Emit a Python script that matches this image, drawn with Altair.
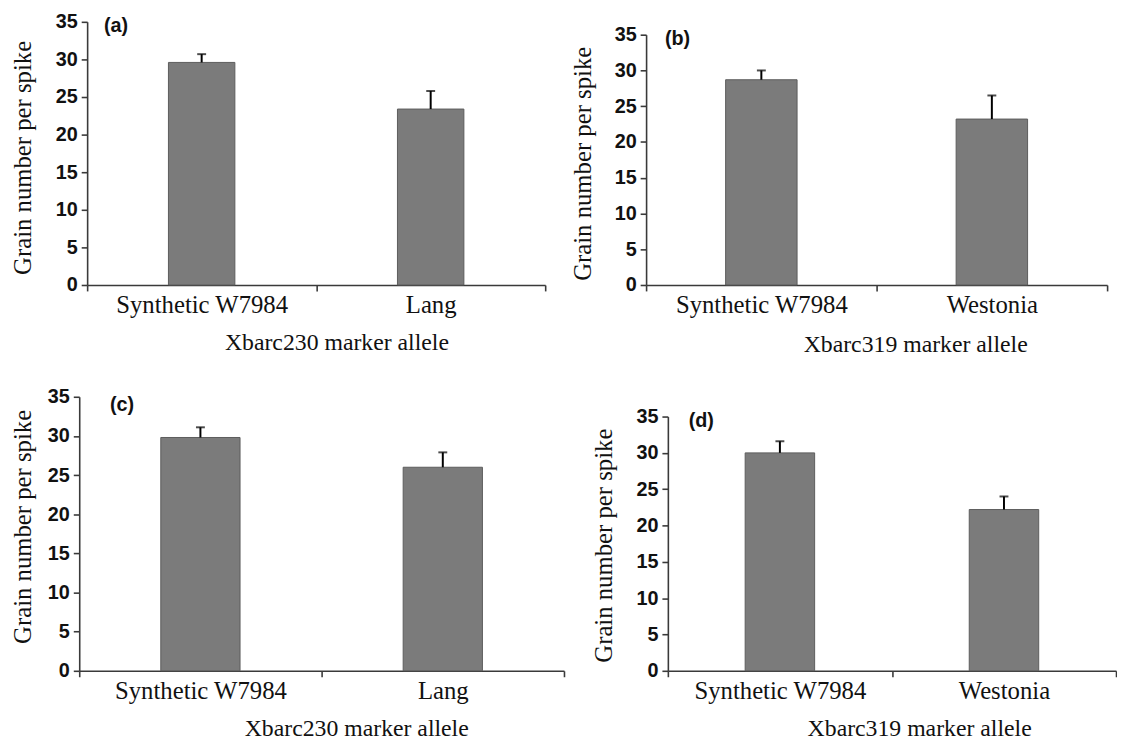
import altair as alt
import pandas as pd

# ---- data ----
cats_a = ["Synthetic W7984", "Lang"]
mean_a = [29.6, 23.4]
err_a = [1.1, 2.4]

cats_b = ["Synthetic W7984", "Westonia"]
mean_b = [28.7, 23.2]
err_b = [1.3, 3.3]

cats_c = ["Synthetic W7984", "Lang"]
mean_c = [29.8, 26.0]
err_c = [1.3, 1.9]

cats_d = ["Synthetic W7984", "Westonia"]
mean_d = [30.0, 22.2]
err_d = [1.6, 1.8]

y_ticks = [0, 5, 10, 15, 20, 25, 30, 35]
y_title = "Grain number per spike"
x_title_230 = "Xbarc230 marker allele"
x_title_319 = "Xbarc319 marker allele"

SERIF = "Liberation Serif"
SANS = "Liberation Sans"
AXIS_COLOR = "#3a3a3a"


def panel(cats, means, errs, letter, width, height, top, left, bar_frac,
          x_title, title_x, title_y, title_pad, ytitle_y, letter_x, letter_y):
    df = pd.DataFrame({
        "allele": cats,
        "mean": means,
        "upper": [m + e for m, e in zip(means, errs)],
    })
    x_axis = alt.Axis(
        title=x_title, labelAngle=0, tickBand="extent",
        labelFont=SERIF, labelFontSize=25, labelColor="#111111",
        labelPadding=2, tickSize=6,
        titleFont=SERIF, titleFontSize=24, titleFontWeight="normal",
        titleColor="#111111", titleX=title_x, titleY=title_y,
        titleBaseline="middle", titleAlign="center",
        domainColor=AXIS_COLOR, tickColor=AXIS_COLOR,
        domainWidth=1.6, tickWidth=1.6,
    )
    x_scale = alt.Scale(paddingInner=0, paddingOuter=0, range=[left, width])
    y_axis = alt.Axis(
        title=y_title, values=y_ticks, labelOverlap=False, offset=-left,
        labelFont=SANS, labelFontWeight="bold", labelFontSize=20,
        labelColor="#111111", labelPadding=4, tickSize=6,
        titleFont=SERIF, titleFontSize=25, titleFontWeight="normal",
        titleColor="#111111", titlePadding=title_pad, titleY=ytitle_y,
        domainColor=AXIS_COLOR, tickColor=AXIS_COLOR,
        domainWidth=1.6, tickWidth=1.6,
    )
    y_scale = alt.Scale(domain=[0, 35], nice=False, range=[height, top])
    xe = alt.X("allele:N", sort=cats, scale=x_scale, axis=x_axis)
    base = alt.Chart(df)
    bars = base.mark_bar(
        width=alt.RelativeBandSize(bar_frac),
        color="#7b7b7b", stroke="#5c5c5c", strokeWidth=1,
    ).encode(x=xe, y=alt.Y("mean:Q", scale=y_scale, axis=y_axis))
    rule = base.mark_rule(color="#000000", strokeWidth=2).encode(
        x=xe,
        y=alt.Y("mean:Q", scale=y_scale, axis=y_axis),
        y2="upper:Q",
    )
    cap = base.mark_tick(color="#000000", thickness=2, size=9).encode(
        x=xe,
        y=alt.Y("upper:Q", scale=y_scale, axis=y_axis),
    )
    lab = alt.Chart(pd.DataFrame({"t": [letter]})).mark_text(
        align="left", baseline="middle", font=SANS, fontWeight="bold",
        fontSize=20, color="#111111",
    ).encode(x=alt.value(left + letter_x), y=alt.value(letter_y), text="t:N")
    return alt.layer(bars, rule, cap, lab).properties(width=width, height=height)


# top row: common plot-group height 266, (b) axis starts 13px lower;
# (a) axis sits 8px right of (c) axis
pa = panel(cats_a, mean_a, err_a, "(a)", 471, 266, 0, 8, 0.29, x_title_230,
           260, 58, 20, 137, 17, 4)
pb = panel(cats_b, mean_b, err_b, "(b)", 466, 266, 13, 0, 0.31, x_title_319,
           272, 60, 19, 143, 19, 17)
# bottom row: common plot-group height 277, (d) axis starts 20px lower
pc = panel(cats_c, mean_c, err_c, "(c)", 490, 277, 0, 0, 0.327, x_title_230,
           280, 58, 12, 131, 31, 8)
pd_ = panel(cats_d, mean_d, err_d, "(d)", 453, 277, 20, 0, 0.31, x_title_319,
            254, 58, 20, 150, 21, 25)

row1 = alt.hconcat(pa, pb, spacing=24)
row2 = alt.hconcat(pc, pd_, spacing=26)

chart = alt.vconcat(row1, row2, spacing=31).properties(
    padding={"left": 2, "top": 0, "right": 0, "bottom": 0},
    background="white",
).configure_view(stroke=None).configure_axis(grid=False)

chart.save("out.html", embed_options={"renderer": "svg", "actions": False})
